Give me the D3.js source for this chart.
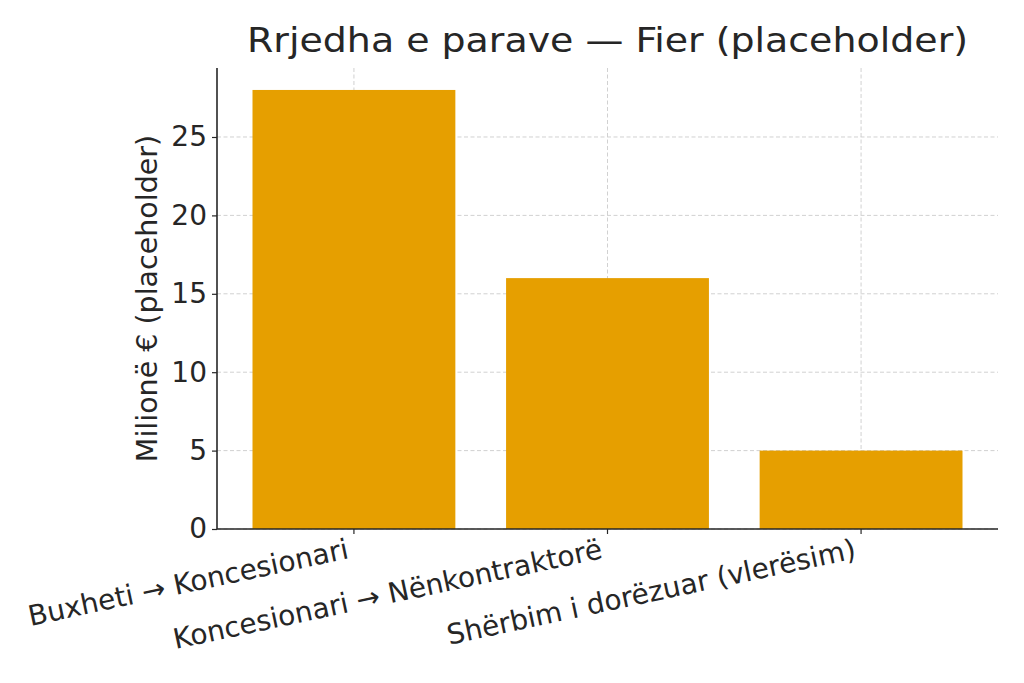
<!DOCTYPE html>
<html><head><meta charset="utf-8">
<script src="https://cdn.jsdelivr.net/npm/d3@7"></script>
<style>body{margin:0;background:#fff}svg{display:block}text{font-family:"DejaVu Sans",sans-serif;fill:#262626}</style>
</head><body><svg id="c" width="1024" height="683"></svg>
<script>
const categories = ["Buxheti → Koncesionari", "Koncesionari → Nënkontraktorë", "Shërbim i dorëzuar (vlerësim)"];
const values = [28, 16, 5];
const yTicks = [0, 5, 10, 15, 20, 25];
const title = "Rrjedha e parave — Fier (placeholder)";
const yLabel = "Milionë € (placeholder)";

const svg = d3.select("#c");
const L = 217, R = 998, T = 68, B = 529;
const x = d3.scaleLinear().domain([-0.54, categories.length - 1 + 0.54]).range([L, R]);
const y = d3.scaleLinear().domain([0, 29.4]).range([B, T]);
const bw = x(0.8) - x(0);

// grid
const g = svg.append("g");
g.selectAll("line.h").data(yTicks).join("line")
  .attr("x1", L).attr("x2", R).attr("y1", d => y(d)).attr("y2", d => y(d))
  .attr("stroke", "#cccccc").attr("stroke-width", 0.9).attr("stroke-dasharray", "4,2.5");
g.selectAll("line.v").data(categories).join("line")
  .attr("x1", (d, i) => x(i)).attr("x2", (d, i) => x(i)).attr("y1", T).attr("y2", B)
  .attr("stroke", "#cccccc").attr("stroke-width", 0.9).attr("stroke-dasharray", "4,2.5");

// bars
svg.selectAll("rect.bar").data(values).join("rect")
  .attr("x", (d, i) => x(i) - bw / 2).attr("width", bw)
  .attr("y", d => y(d)).attr("height", d => B - y(d))
  .attr("fill", "#E69F00");

// y axis
const ya = svg.append("g").attr("transform", `translate(${L},0)`)
  .call(d3.axisLeft(y).tickValues(yTicks).tickSize(5).tickPadding(5).tickFormat(d3.format("d")));
ya.select(".domain").attr("stroke", "#262626").attr("stroke-width", 1.6).attr("d", `M0,${T}V${B}`);
ya.selectAll(".tick line").attr("stroke", "#262626").attr("stroke-width", 1.2);
ya.selectAll(".tick text").style("font-size", "28px").style("font-family", "DejaVu Sans").attr("fill", "#262626");

// x axis
const xa = svg.append("g").attr("transform", `translate(0,${B})`);
xa.append("line").attr("x1", L).attr("x2", R).attr("stroke", "#262626").attr("stroke-width", 1.6);
xa.selectAll("line.t").data(categories).join("line")
  .attr("x1", (d, i) => x(i)).attr("x2", (d, i) => x(i)).attr("y1", 0).attr("y2", 5)
  .attr("stroke", "#262626").attr("stroke-width", 1.2);
xa.selectAll("text").data(categories).join("text")
  .attr("transform", (d, i) => `translate(${x(i) - 4},${29}) rotate(-12)`)
  .attr("text-anchor", "end").style("font-size", "28px").text(d => d);

// title
svg.append("text").attr("x", (L + R) / 2).attr("y", 52).attr("text-anchor", "middle")
  .style("font-size", "34px").style("font-family", "'DejaVu Sans Condensed','DejaVu Sans',sans-serif")
  .attr("textLength", 721).attr("lengthAdjust", "spacingAndGlyphs")
  .attr("fill", "#3a3a3a").text(title);

// y label
svg.append("text").attr("transform", `translate(157,${(T + B) / 2}) rotate(-90)`)
  .attr("text-anchor", "middle").style("font-size", "28.5px").text(yLabel);
</script></body></html>
